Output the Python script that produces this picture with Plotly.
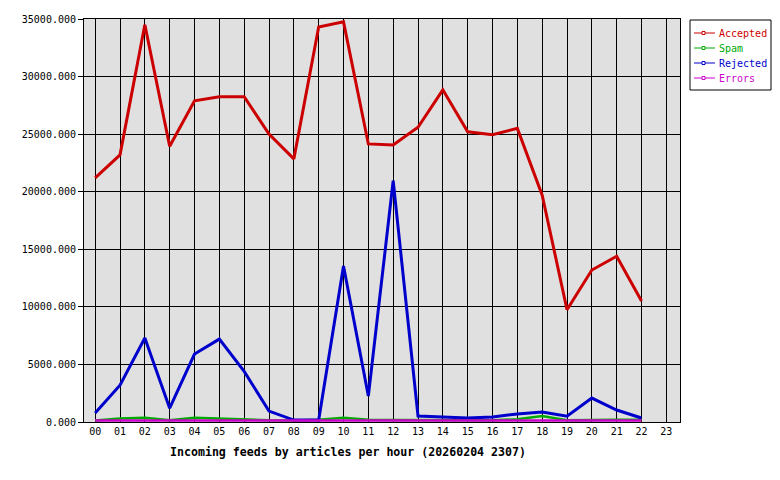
import plotly.graph_objects as go

hours = ["00","01","02","03","04","05","06","07","08","09","10","11",
         "12","13","14","15","16","17","18","19","20","21","22","23"]
accepted = [21200, 23200, 34500, 23950, 27900, 28250, 28250, 25000, 22850, 34300, 34750, 24150,
            24050, 25600, 28850, 25200, 24950, 25500, 19700, 9750, 13200, 14400, 10500]
spam = [130, 300, 370, 150, 370, 300, 190, 150, 130, 200, 370, 200,
        170, 170, 170, 170, 150, 230, 520, 150, 200, 200, 200]
rejected = [780, 3200, 7300, 1200, 5900, 7200, 4400, 950, 170, 170, 13550, 2250,
            20950, 520, 430, 350, 430, 700, 870, 500, 2080, 1040, 350]
errors = [130, 130, 130, 130, 130, 130, 130, 130, 130, 130, 130, 130,
          130, 130, 130, 130, 130, 130, 130, 130, 130, 130, 130]

series = [("Accepted", accepted, "#cc0000", 3),
          ("Spam", spam, "#00aa00", 2.5),
          ("Rejected", rejected, "#0000cc", 3),
          ("Errors", errors, "#cc00cc", 2.5)]

# plot area in pixels
L, R, T, B = 84, 680, 19, 422
PW, PH = R - L, B - T

def px(xp):
    return (xp - L) / PW

def py(yp):
    return (B - yp) / PH

xpos = list(range(len(hours)))
fig = go.Figure()
for name, vals, col, w in series:
    fig.add_trace(go.Scatter(x=xpos[:len(vals)], y=vals, mode="lines", name=name,
                             line=dict(color=col, width=w), showlegend=False,
                             hoverinfo="x+y"))

mono = "DejaVu Sans Mono"
shapes = [dict(type="rect", xref="paper", yref="paper",
               x0=px(690), x1=px(771), y0=py(20), y1=py(90),
               line=dict(color="black", width=1), fillcolor="white", layer="above")]
annotations = []
for i, (name, vals, col, w) in enumerate(series):
    yc = 33 + 15 * i
    shapes.append(dict(type="line", xref="paper", yref="paper",
                       x0=px(694), x1=px(715), y0=py(yc), y1=py(yc),
                       line=dict(color=col, width=1), layer="above"))
    shapes.append(dict(type="rect", xref="paper", yref="paper",
                       x0=px(702), x1=px(705), y0=py(yc - 1.5), y1=py(yc + 1.5),
                       line=dict(color=col, width=1), fillcolor="white", layer="above"))
    annotations.append(dict(text=name, xref="paper", yref="paper",
                            x=px(717), y=py(yc), xanchor="left", yanchor="middle",
                            showarrow=False, font=dict(family=mono, size=10, color=col)))

annotations.append(dict(text="<b>Incoming feeds by articles per hour (20260204 2307)</b>",
                        xref="paper", yref="paper", x=px(348), y=py(452),
                        xanchor="center", yanchor="middle", showarrow=False,
                        font=dict(family=mono, size=11.6, color="black")))

fig.update_layout(
    width=780, height=480,
    margin=dict(l=L, r=780 - R, t=T, b=480 - B, autoexpand=False),
    paper_bgcolor="white", plot_bgcolor="#e0e0e0",
    font=dict(family=mono, size=10, color="black"),
    showlegend=False,
    xaxis=dict(range=[-0.45, 23.55], tickmode="array", tickvals=xpos, ticktext=hours,
               showgrid=True, gridcolor="black", gridwidth=1, zeroline=False,
               showline=True, linecolor="black", linewidth=1, mirror=True,
               ticks="", tickfont=dict(family=mono, size=10, color="black"),
               fixedrange=True, automargin=False),
    yaxis=dict(range=[0, 35000], tickmode="array",
               tickvals=[0, 5000, 10000, 15000, 20000, 25000, 30000, 35000],
               tickformat=".3f", showgrid=True, gridcolor="black", gridwidth=1,
               zeroline=False, showline=True, linecolor="black", linewidth=1, mirror=True,
               ticks="outside", ticklen=5, tickcolor="black",
               tickfont=dict(family=mono, size=10, color="black"), fixedrange=True,
               automargin=False),
    shapes=shapes,
    annotations=annotations,
)
fig.write_html("out.html", config={"displayModeBar": False},
               post_script="document.body.style.margin='0px';document.body.style.overflow='hidden';")
